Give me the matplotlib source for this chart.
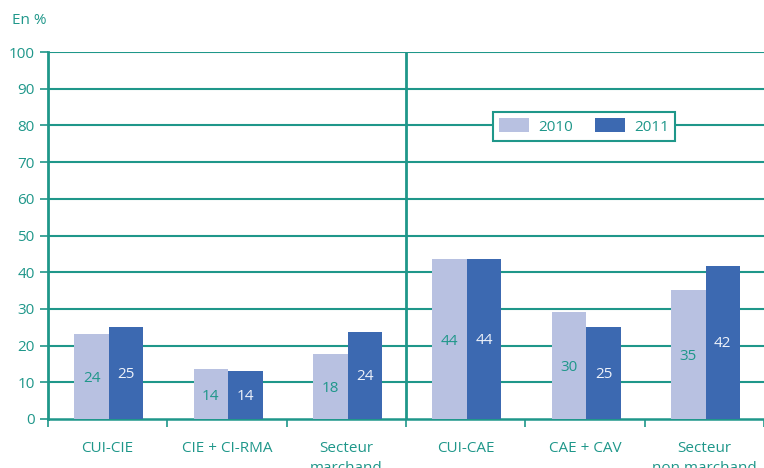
import matplotlib
matplotlib.use("Agg")
import matplotlib.pyplot as plt
import numpy as np

plt.rcParams['font.family'] = ['Open Sans', 'DejaVu Sans']

# data
categories = ["CUI-CIE", "CIE + CI-RMA", "Secteur\nmarchand",
              "CUI-CAE", "CAE + CAV", "Secteur\nnon marchand"]
heights_2010 = [23.2, 13.6, 17.8, 43.6, 29.2, 35.2]
heights_2011 = [25.1, 13.1, 23.7, 43.6, 25.1, 41.7]
labels_2010 = ["24", "14", "18", "44", "30", "35"]
labels_2011 = ["25", "14", "24", "44", "25", "42"]
yticks = [0, 10, 20, 30, 40, 50, 60, 70, 80, 90, 100]

teal = "#1f978a"
light = "#b8c1e1"
dark = "#3c69b1"
fs = 11

fig = plt.figure(figsize=(7.64, 4.68), dpi=100)
ax = fig.add_axes([48/764, 49/468, 716/764, 367/468])

x = np.arange(len(categories))
w = 0.29
ax.bar(x - w/2 + 0.01, heights_2010, w, color=light, label="2010", zorder=3)
ax.bar(x + w/2 + 0.01, heights_2011, w, color=dark, label="2011", zorder=3)

for i in range(len(categories)):
    ax.text(x[i] - w/2 + 0.01, heights_2010[i]/2 - 0.6, labels_2010[i], ha="center",
            va="center", color=teal, fontsize=fs, zorder=4)
    ax.text(x[i] + w/2 + 0.01, heights_2011[i]/2 - 0.3, labels_2011[i], ha="center",
            va="center", color="#eef2fa", fontsize=fs, zorder=4)

ax.set_xlim(-0.5, -0.5 + 716/119.8)
ax.set_ylim(0, 100)

for yv in yticks[1:]:
    ax.axhline(yv, color=teal, lw=1.5, zorder=1)
ax.axvline(2.5, color=teal, lw=2, zorder=2)

ax.set_yticks(yticks)
ax.tick_params(axis="y", colors=teal, labelcolor=teal, length=6, width=1.2,
               pad=3.5, labelsize=fs)
ax.set_xticks(x)
ax.set_xticklabels(categories, color=teal, fontsize=fs, linespacing=1.4)
ax.set_xticks(np.arange(-0.5, 6.5, 1), minor=True)
ax.tick_params(axis="x", which="major", length=0, pad=16)
ax.tick_params(axis="x", which="minor", length=6, width=1.2, color=teal)

for s in ["top", "right"]:
    ax.spines[s].set_visible(False)
ax.spines["left"].set_color(teal)
ax.spines["left"].set_linewidth(2)
ax.spines["bottom"].set_color(teal)
ax.spines["bottom"].set_linewidth(1.8)

leg = ax.legend(loc="center", bbox_to_anchor=(584/764, 1 - 126.5/468),
                bbox_transform=fig.transFigure, ncol=2, fancybox=False,
                framealpha=1, edgecolor=teal, handlelength=2.0,
                handleheight=1.0, columnspacing=1.4, handletextpad=0.6,
                borderpad=0.4, fontsize=fs)
leg.get_frame().set_linewidth(1.5)
for t in leg.get_texts():
    t.set_color(teal)

fig.text(12/764, 1 - 20/468, "En %", color=teal, fontsize=fs, va="center")

fig.savefig("out.png", dpi=100)
